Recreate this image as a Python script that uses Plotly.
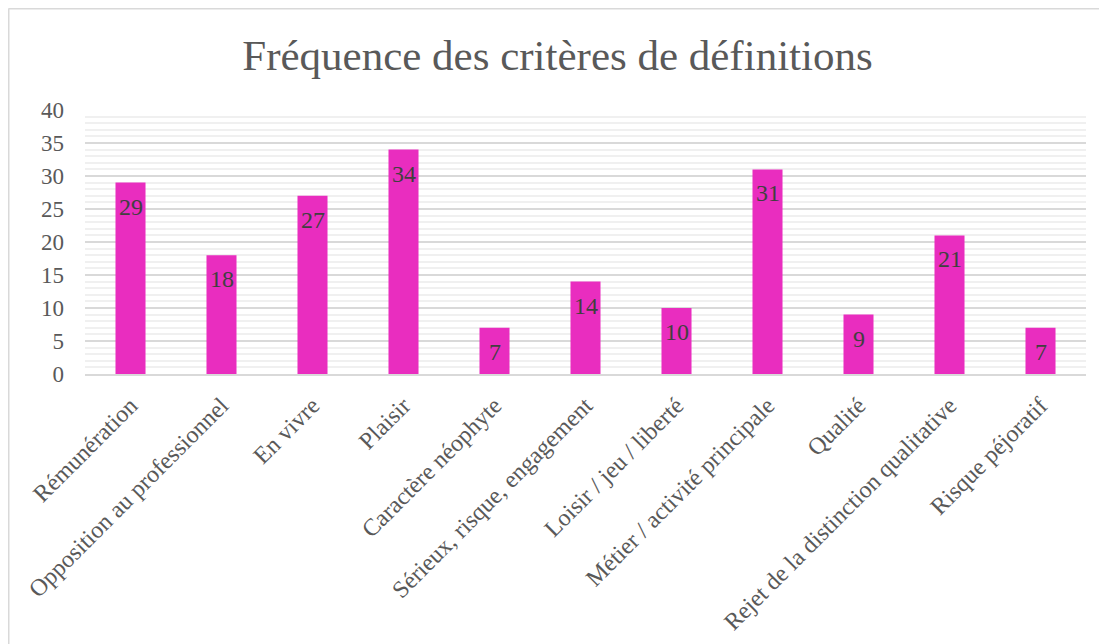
import plotly.graph_objects as go

categories = ["Rémunération", "Opposition au professionnel", "En vivre", "Plaisir",
              "Caractère néophyte", "Sérieux, risque, engagement", "Loisir / jeu / liberté",
              "Métier / activité principale", "Qualité", "Rejet de la distinction qualitative",
              "Risque péjoratif"]
values = [29, 18, 27, 34, 7, 14, 10, 31, 9, 21, 7]
y_ticks = [0, 5, 10, 15, 20, 25, 30, 35, 40]

FONT = "Liberation Serif, Times New Roman, serif"
W, H = 1099, 636
L, R, T, B = 77, 21, 102, 270
pw, ph = W - L - R, H - T - B

fig = go.Figure(go.Bar(
    x=categories, y=values,
    marker=dict(color="#E92DBF", line=dict(width=0)),
    hoverinfo="x+y",
))

for c, v in zip(categories, values):
    fig.add_annotation(x=c, y=v, text=str(v), showarrow=False, yanchor="top",
                       yshift=-9, font=dict(family=FONT, size=24, color="#404040"))

def px2x(p):
    return (p - L) / pw

def py2y(p):
    return (H - B - p) / ph

fig.update_layout(
    width=W, height=H,
    margin=dict(l=L, r=R, t=T, b=B, autoexpand=False),
    paper_bgcolor="white", plot_bgcolor="white",
    bargap=0.67,
    showlegend=False,
    title=dict(text="Fréquence des critères de définitions", x=0.5, xanchor="center",
               y=1 - 47 / H, yanchor="middle",
               font=dict(family=FONT, size=43, color="#595959")),
    font=dict(family=FONT),
    shapes=[
        dict(type="line", xref="paper", yref="paper", x0=px2x(0.5), x1=px2x(0.5),
             y0=py2y(0.5), y1=py2y(660), line=dict(color="#d9d9d9", width=2), layer="below"),
        dict(type="line", xref="paper", yref="paper", x0=px2x(0.5), x1=px2x(1120),
             y0=py2y(0.5), y1=py2y(0.5), line=dict(color="#d9d9d9", width=2), layer="below"),
    ],
)

fig.update_yaxes(
    range=[0, 40], tickvals=y_ticks, ticktext=[str(v) for v in y_ticks],
    showgrid=True, gridcolor="#d9d9d9", gridwidth=1.5,
    minor=dict(dtick=1, showgrid=True, gridcolor="#f0f0f0", gridwidth=1.5),
    zeroline=False, showline=False, automargin=False,
    tickfont=dict(family=FONT, size=23, color="#595959"),
    ticks="", ticklabelstandoff=20,
)
fig.update_xaxes(
    showline=True, linecolor="#d9d9d9", linewidth=2,
    tickangle=-45, ticks="", automargin=False,
    tickfont=dict(family=FONT, size=24, color="#595959"),
    ticklabelstandoff=6,
)

fig.write_html("out.html")
